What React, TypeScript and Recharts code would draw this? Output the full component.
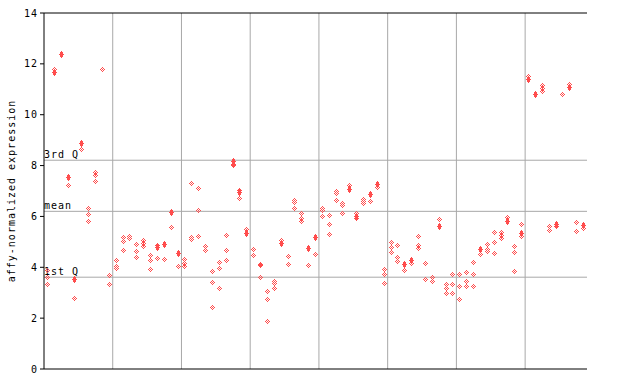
import React from 'react';
import { ScatterChart, Scatter, XAxis, YAxis, ReferenceLine } from 'recharts';

// sample columns 0..78, grouped by tens (vertical separators between groups)
const sampleCount = 79;
const groupBreaks = [9.5, 19.5, 29.5, 39.5, 49.5, 59.5, 69.5];
const yTicks = [0, 2, 4, 6, 8, 10, 12, 14];
const quartiles = [
  { name: '3rd Q', value: 8.21 },
  { name: 'mean', value: 6.2 },
  { name: '1st Q', value: 3.61 },
];

// [sample index, expression]
const solidPoints: [number, number][] = [
  [1, 11.67], [2, 12.35], [3, 7.52], [4, 3.53], [5, 8.86],
  [16, 4.78], [17, 4.9], [18, 6.15], [19, 4.53],
  [27, 8.15], [28, 6.93], [29, 5.32],
  [34, 4.93], [38, 4.73], [39, 5.16],
  [44, 7.05], [45, 6.0], [47, 6.85], [48, 7.25],
  [52, 4.1], [53, 4.26], [57, 5.6],
  [63, 4.69], [67, 5.79], [69, 5.32],
  [70, 11.39], [71, 10.79], [74, 5.67], [76, 11.08], [78, 5.65],
];

const checkeredPoints: [number, number][] = [
  [0, 3.89], [0, 3.6], [0, 3.33],
  [1, 11.76],
  [3, 7.22], [4, 2.79], [5, 8.64],
  [6, 6.32], [6, 6.08], [6, 5.81],
  [7, 7.71], [7, 7.6], [7, 7.38],
  [8, 11.76],
  [9, 3.68], [9, 3.33],
  [10, 4.25], [10, 4.05], [10, 3.97],
  [11, 5.19], [11, 5.0], [11, 4.67],
  [12, 5.22], [12, 5.14],
  [13, 4.88], [13, 4.63], [13, 4.39],
  [14, 5.06], [14, 4.94], [14, 4.82],
  [15, 4.47], [15, 4.27], [15, 3.92],
  [16, 4.86], [16, 4.35],
  [17, 4.31], [18, 5.57], [19, 4.04],
  [20, 4.31], [20, 4.16], [20, 4.04],
  [21, 7.3], [21, 5.18], [21, 5.1],
  [22, 7.1], [22, 6.24], [22, 5.22],
  [23, 4.82], [23, 4.67],
  [24, 3.84], [24, 3.41], [24, 2.43],
  [25, 4.2], [25, 3.96], [25, 3.15],
  [26, 5.26], [26, 4.67], [26, 4.27],
  [27, 8.06], [27, 8.01],
  [28, 7.01], [28, 6.72],
  [29, 5.47],
  [30, 4.71], [30, 4.47],
  [31, 4.12], [31, 4.06], [31, 3.6],
  [32, 3.05], [32, 2.74], [32, 1.87],
  [33, 3.45], [33, 3.37], [33, 3.17],
  [34, 5.05],
  [35, 4.43], [35, 4.12],
  [36, 6.63], [36, 6.55], [36, 6.32],
  [37, 6.12], [37, 5.9], [37, 5.81],
  [38, 4.08], [39, 4.51],
  [40, 6.32], [40, 6.25], [40, 6.0],
  [41, 6.04], [41, 5.69], [41, 5.3],
  [42, 6.99], [42, 6.92], [42, 6.63],
  [43, 6.51], [43, 6.44], [43, 6.12],
  [44, 7.22],
  [45, 6.12], [45, 5.93],
  [46, 6.67], [46, 6.59], [46, 6.51],
  [47, 6.59], [48, 7.14],
  [49, 3.92], [49, 3.72], [49, 3.37],
  [50, 4.98], [50, 4.79], [50, 4.59],
  [51, 4.86], [51, 4.39], [51, 4.23],
  [52, 3.88], [53, 4.16],
  [54, 5.22], [54, 4.86], [54, 4.75],
  [55, 4.16], [55, 3.53],
  [56, 3.6], [56, 3.45],
  [57, 5.89],
  [58, 3.33], [58, 3.17], [58, 2.98],
  [59, 3.72], [59, 3.33], [59, 2.98],
  [60, 3.72], [60, 3.25], [60, 2.74],
  [61, 3.8], [61, 3.45], [61, 3.25],
  [62, 4.2], [62, 3.72], [62, 3.25],
  [63, 4.51],
  [64, 4.9], [64, 4.69], [64, 4.61],
  [65, 5.37], [65, 4.98], [65, 4.55],
  [66, 5.37], [66, 5.26], [66, 5.14],
  [67, 5.97],
  [68, 4.82], [68, 4.59], [68, 3.84],
  [69, 5.69], [69, 5.22],
  [70, 11.51],
  [72, 11.16], [72, 11.04], [72, 10.92],
  [73, 5.61], [73, 5.45],
  [74, 5.6],
  [75, 10.8],
  [76, 11.2],
  [77, 5.77], [77, 5.41],
  [78, 5.53],
];

const solidData = solidPoints.map(([x, y]) => ({ x, y }));
const checkeredData = checkeredPoints.map(([x, y]) => ({ x, y }));

const RED = '#ff4d4d';
const GRID = '#a8a8a8';
const FONT = '"DejaVu Sans Mono", monospace';

function pixelDiamond(cx: number, cy: number, checker: boolean) {
  const ox = Math.round(cx - 0.5);
  const oy = Math.round(cy - 0.5);
  const rects: React.ReactElement[] = [];
  for (let dy = -3; dy <= 3; dy++) {
    for (let dx = -3; dx <= 3; dx++) {
      if (Math.abs(dx) / 2.6 + Math.abs(dy) / 3.5 > 1.001) continue;
      if (checker && (dx + dy) % 2 !== 0) continue;
      rects.push(
        <rect key={`${dx}_${dy}`} x={ox + dx} y={oy + dy} width={1} height={1} fill={RED} />
      );
    }
  }
  return <g shapeRendering="crispEdges">{rects}</g>;
}

const SolidShape = (p: any) => pixelDiamond(p.cx, p.cy, false);
const CheckShape = (p: any) => pixelDiamond(p.cx, p.cy, true);

const RightTick = (p: any) => (
  <line x1={p.x - 5} x2={p.x} y1={p.y} y2={p.y} stroke="#000" strokeWidth={1} />
);

export default function App() {
  return (
    <div style={{ position: 'absolute', left: 0, top: 0, background: '#fff' }}>
      <ScatterChart
        width={640}
        height={384}
        margin={{ top: 13, right: 53, bottom: 15, left: 0 }}
      >
        <XAxis
          type="number"
          dataKey="x"
          domain={[-0.5, sampleCount - 0.5]}
          hide
        />
        <YAxis
          yAxisId="left"
          type="number"
          dataKey="y"
          domain={[0, 14]}
          ticks={yTicks}
          width={44}
          tickSize={4}
          tickMargin={2}
          axisLine={{ stroke: '#000' }}
          tickLine={{ stroke: '#000' }}
          tick={{ fill: '#000', fontSize: 10, fontFamily: FONT, letterSpacing: 1 }}
          interval={0}
          label={(props: any) => {
            const vb = props.viewBox || { x: 0, y: 13, width: 44, height: 356 };
            const cx = 15;
            const cy = vb.y + vb.height / 2;
            return (
              <text
                x={cx}
                y={cy}
                transform={`rotate(-90 ${cx} ${cy})`}
                textAnchor="middle"
                fontSize={10}
                fontFamily={FONT}
                letterSpacing={1}
                fill="#000"
              >
                affy-normalized expression
              </text>
            );
          }}
        />
        <YAxis
          yAxisId="right"
          orientation="right"
          type="number"
          domain={[0, 14]}
          ticks={yTicks}
          width={0}
          tickSize={0}
          tickMargin={0}
          axisLine={{ stroke: '#000' }}
          tickLine={false}
          tick={<RightTick />}
          interval={0}
        />
        {groupBreaks.map((b) => (
          <ReferenceLine key={b} yAxisId="left" x={b} stroke={GRID} strokeWidth={1} />
        ))}
        {quartiles.map((q) => (
          <ReferenceLine
            key={q.name}
            yAxisId="left"
            y={q.value}
            stroke={GRID}
            strokeWidth={1}
            label={(props: any) => {
              const vb = props.viewBox;
              return (
                <text
                  x={vb.x}
                  y={vb.y - 2}
                  fontSize={10}
                  fontFamily={FONT}
                  letterSpacing={1}
                  fill="#000"
                >
                  {q.name}
                </text>
              );
            }}
          />
        ))}
        <ReferenceLine yAxisId="left" y={14} stroke="#000" strokeWidth={1} />
        <ReferenceLine yAxisId="left" y={0} stroke="#000" strokeWidth={1} />
        <Scatter
          yAxisId="left"
          data={checkeredData}
          shape={CheckShape}
          isAnimationActive={false}
        />
        <Scatter
          yAxisId="left"
          data={solidData}
          shape={SolidShape}
          isAnimationActive={false}
        />
      </ScatterChart>
    </div>
  );
}
